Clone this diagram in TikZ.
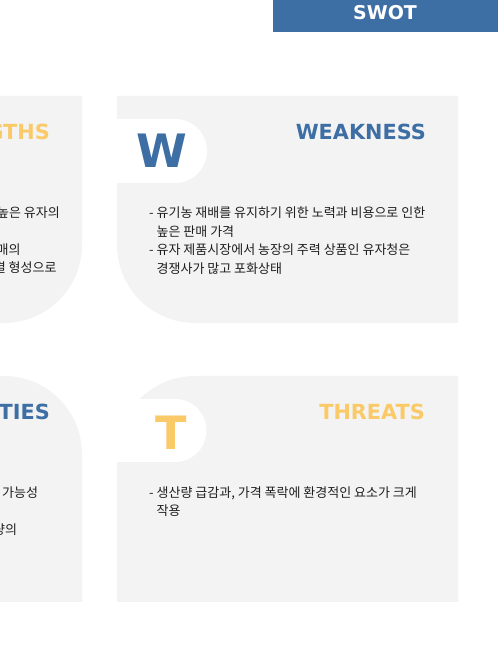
\documentclass[tikz,border=0pt]{standalone}
\usepackage{fontspec}
\newfontfamily\headfont{DejaVu Sans}
\newfontfamily\krfont{Noto Sans CJK KR}
\definecolor{swotblue}{HTML}{3D6EA4}
\definecolor{swotyellow}{HTML}{FAC968}
\definecolor{panelgray}{HTML}{F3F3F3}
\definecolor{textdark}{HTML}{1E1E1E}

\begin{document}
\begin{tikzpicture}[
  x=1pt, y=1pt,
  panel/.style={fill=panelgray},
  tab/.style={fill=white},
  bigletter/.style={font=\headfont\bfseries\fontsize{46}{46}\selectfont, anchor=base east, inner sep=0pt},
  heading/.style={font=\headfont\bfseries\fontsize{20.8}{20.8}\selectfont, anchor=base east, inner sep=0pt},
  bullets/.style={font=\krfont\fontsize{13}{18.6}\selectfont, text=textdark, align=left, anchor=base west, inner sep=0pt},
  frag/.style={font=\krfont\fontsize{13}{18.6}\selectfont, text=textdark, anchor=base east, inner sep=0pt}
]
\useasboundingbox (0,0) rectangle (498,646);
\clip (0,0) rectangle (498,646);

\fill[swotblue] (273,614.4) rectangle (499,647);
\node[font=\headfont\bfseries\fontsize{19}{19}\selectfont, text=white, anchor=base, inner sep=0pt] (title) at (385,626) {SWOT};

\fill[panel] (-10,550) -- (82,550) -- (82,401) arc[start angle=0, end angle=-90, radius=78] -- (-10,323) -- cycle;
\fill[panel] (117,550) -- (458,550) -- (458,323) -- (195,323) arc[start angle=270, end angle=180, radius=78] -- cycle;
\fill[panel] (-10,44) -- (82,44) -- (82,192) arc[start angle=0, end angle=90, radius=78] -- (-10,270) -- cycle;
\fill[panel] (117,44) -- (458,44) -- (458,270) -- (195,270) arc[start angle=90, end angle=180, radius=78] -- cycle;

\fill[tab] (117,527) -- (175,527) arc[start angle=90, end angle=-90, radius=32] -- (117,463) -- cycle;
\fill[tab] (117,247) -- (175,247) arc[start angle=90, end angle=-90, radius=31.5] -- (117,184) -- cycle;

\node[heading, text=swotyellow] (shead) at (50,506) {STRENGTHS};
\node[heading, text=swotblue] (whead) at (426,506) {WEAKNESS};
\node[heading, text=swotblue] (ohead) at (50,226) {OPPORTUNITIES};
\node[heading, text=swotyellow] (thead) at (425,226) {THREATS};

\node[bigletter, text=swotblue] (wletter) at (187,478) {W};
\node[bigletter, text=swotyellow] (tletter) at (187,196) {T};

\node[bullets] (wtext) at (149,372.7) {- 유기농 재배를 유지하기 위한 노력과 비용으로 인한\\
\hphantom{- }높은 판매 가격\\
- 유자 제품시장에서 농장의 주력 상품인 유자청은\\
\hphantom{- }경쟁사가 많고 포화상태};
\node[bullets] (ttext) at (149,130.2) {- 생산량 급감과, 가격 폭락에 환경적인 요소가 크게\\
\hphantom{- }작용};

\node[frag] (s1) at (60,428.5) {높은 유자의};
\node[frag] (s2) at (20.7,391.8) {매의};
\node[frag] (s3) at (56.7,373.2) {결 형성으로};
\node[frag] (o1) at (38.3,148.8) {가능성};
\node[frag] (o2) at (17.3,111.8) {량의};
\end{tikzpicture}
\end{document}
